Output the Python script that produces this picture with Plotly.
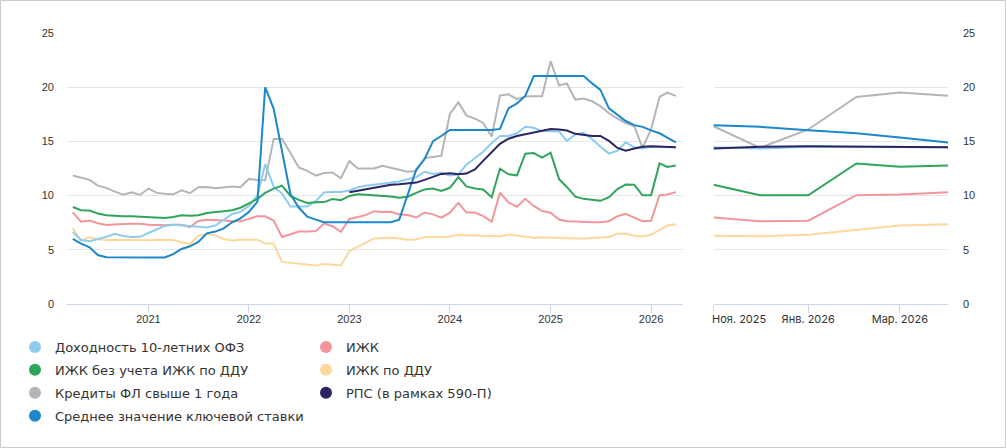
import pandas as pd
import plotly.graph_objects as go

# Monthly dates: Apr 2020 .. Apr 2026
dates = pd.date_range("2020-04-01", periods=73, freq="MS")

ofz10 = [6.65, 5.9, 5.78, 5.97, 6.2, 6.47, 6.28, 6.19, 6.2, 6.55, 6.9, 7.2,
         7.32, 7.28, 7.2, 7.12, 7.05, 7.24, 7.78, 8.3, 8.5,
         9.05, 10.0, 12.9, 10.8, 10.2, 9.0, 9.0, 9.0, 9.5, 10.28, 10.34, 10.34,
         10.47, 10.78, 10.9, 11.0, 11.1, 11.2, 11.3, 11.5, 11.7, 12.2, 12.0, 12.1,
         11.85, 11.95, 12.85, 13.45, 14.05, 14.85, 15.5, 15.5, 15.75, 16.35, 16.25, 15.95,
         15.92, 15.92, 15.03, 15.65, 15.8, 15.2, 14.5, 13.87, 14.15, 14.92, 14.45, 14.35,
         14.5, 14.48, 14.42, 14.45]

izhk_ex_ddu = [8.95, 8.65, 8.62, 8.34, 8.18, 8.12, 8.09, 8.09, 8.06, 8.03, 8.0, 7.94,
               8.03, 8.18, 8.15, 8.18, 8.4, 8.46, 8.55, 8.65, 8.88,
               9.28, 9.7, 10.25, 10.65, 10.92, 9.97, 9.6, 9.32, 9.38, 9.4, 9.69, 9.57,
               9.97, 10.12, 10.08, 10.03, 9.95, 9.92, 9.8, 9.9, 10.25, 10.57, 10.65, 10.42,
               10.72, 11.7, 10.85, 10.66, 10.57, 9.85, 12.48, 11.96, 11.87, 13.86, 13.92, 13.5,
               13.96, 11.52, 10.8, 9.9, 9.7, 9.58, 9.52, 9.85, 10.6, 11.02, 11.0, 10.03,
               10.03, 12.97, 12.65, 12.78]

consumer = [11.85, 11.66, 11.45, 10.92, 10.71, 10.37, 10.09, 10.31, 10.06, 10.65, 10.25, 10.18,
            10.12, 10.49, 10.22, 10.77, 10.8, 10.68, 10.77, 10.83, 10.77,
            11.54, 11.45, 11.42, 15.23, 15.23, 13.94, 12.6, 12.28, 11.85, 12.08, 12.14, 11.6,
            13.18, 12.5, 12.5, 12.5, 12.75, 12.59, 12.38, 12.19, 12.28, 13.46, 13.58, 13.67,
            17.53, 18.6, 17.4, 17.1, 16.7, 15.45, 19.23, 19.35, 18.9, 19.15, 19.17, 19.17,
            22.4, 20.15, 20.35, 18.86, 18.95, 18.7, 18.25, 17.6, 17.1, 16.7, 16.4, 14.4,
            16.1, 19.1, 19.5, 19.2]

key_rate = [6.0, 5.57, 5.23, 4.52, 4.31, 4.3, 4.3, 4.3, 4.3, 4.3, 4.3, 4.3,
            4.6, 5.08, 5.32, 5.72, 6.52, 6.68, 6.98, 7.54, 7.9,
            8.49, 9.45, 20.0, 18.0, 14.1, 10.12, 8.9, 8.05, 7.78, 7.54, 7.55, 7.55,
            7.55, 7.55, 7.55, 7.55, 7.55, 7.55, 7.78, 10.2, 12.42, 13.35, 15.03, 15.5,
            16.05, 16.05, 16.05, 16.05, 16.05, 16.05, 16.15, 18.05, 18.5, 19.2, 21.03, 21.03,
            21.03, 21.03, 21.03, 21.03, 21.03, 20.35, 19.75, 18.05, 17.45, 16.88, 16.5, 16.34,
            16.02, 15.75, 15.35, 14.9]

izhk = [8.45, 7.6, 7.7, 7.45, 7.28, 7.36, 7.37, 7.4, 7.4, 7.32, 7.26, 7.26,
        7.32, 7.3, 7.1, 7.66, 7.78, 7.76, 7.7, 7.63, 7.63,
        7.85, 8.1, 8.09, 7.7, 6.18, 6.4, 6.68, 6.68, 6.73, 7.42, 7.17, 6.66,
        7.85, 8.03, 8.2, 8.56, 8.48, 8.5, 8.27, 8.2, 7.98, 8.43, 8.27, 7.97,
        8.43, 9.34, 8.43, 8.43, 8.1, 7.6, 10.27, 9.37, 8.97, 9.7, 9.05, 8.57,
        8.42, 7.8, 7.64, 7.6, 7.55, 7.55, 7.55, 7.64, 8.1, 8.32, 7.97, 7.64,
        7.68, 10.04, 10.1, 10.32]

izhk_ddu = [7.0, 5.85, 6.15, 5.97, 5.9, 5.93, 5.96, 5.93, 5.9, 5.87, 5.93, 5.93,
            5.9, 5.7, 5.53, 6.3, 6.45, 6.33, 6.0, 5.85, 5.93,
            5.93, 5.93, 5.57, 5.57, 3.88, 3.8, 3.75, 3.67, 3.55, 3.7, 3.6, 3.55,
            4.88, 5.28, 5.65, 6.05, 6.1, 6.12, 6.04, 5.92, 5.95, 6.18, 6.18, 6.18,
            6.2, 6.4, 6.33, 6.35, 6.27, 6.3, 6.22, 6.42, 6.3, 6.22, 6.12, 6.15,
            6.12, 6.05, 6.05, 6.05, 6.05, 6.07, 6.08, 6.17, 6.5, 6.48, 6.3, 6.24,
            6.38, 6.86, 7.25, 7.35]

rps = [None] * 33 + [
    10.3, 10.45, 10.55, 10.7, 10.9, 11.0, 11.05, 11.1, 11.2, 11.45, 11.75, 12.0,
    12.07, 11.97, 12.03, 12.42, 13.2, 13.96, 14.78, 15.25, 15.5, 15.65, 15.8, 16.0,
    16.15, 16.1, 16.0, 15.7, 15.58, 15.5, 15.5, 15.05, 14.4, 14.15, 14.34, 14.5,
    14.55, 14.5, 14.46, 14.46]

names = ["Доходность 10-летних ОФЗ", "ИЖК без учета ИЖК по ДДУ",
         "Кредиты ФЛ свыше 1 года", "Среднее значение ключевой ставки",
         "ИЖК", "ИЖК по ДДУ", "РПС (в рамках 590-П)"]
colors = ["#8ecbf0", "#2fa55b", "#b3b5ba", "#1a88c9", "#f3969b", "#fdd89b", "#2a2563"]
series = [ofz10, izhk_ex_ddu, consumer, key_rate, izhk, izhk_ddu, rps]
legend_of = ["legend", "legend", "legend", "legend", "legend2", "legend2", "legend2"]

year_ticks = ["2021-01-01", "2022-01-01", "2023-01-01", "2024-01-01", "2025-01-01", "2026-01-01"]
zoom_tick_marks = ["2025-11-01", "2026-01-01", "2026-03-01"]
zoom_label_pos = ["2025-11-17 12:00", "2026-01-01", "2026-03-01"]
zoom_labels = ["Ноя. 2025", "Янв. 2026", "Мар. 2026"]
y_ticks = [0, 5, 10, 15, 20, 25]

# plot-area geometry (pixels) used to place items positioned outside it
ML, MR, MT, MB = 67, 58, 33, 144
W, H = 1006, 448
PW, PH = W - ML - MR, H - MT - MB


def px_x(px):
    return (px - ML) / PW


def px_y(py):
    return (H - MB - py) / PH


fig = go.Figure()
n_zoom = 6
order = [5, 4, 2, 0, 1, 3, 6]
for k in order:
    fig.add_trace(go.Scatter(x=dates, y=series[k], mode="lines", name=names[k],
                             line=dict(color=colors[k], width=2), showlegend=False,
                             xaxis="x", yaxis="y", connectgaps=False))
for k in order:
    fig.add_trace(go.Scatter(x=dates[-n_zoom:], y=series[k][-n_zoom:], mode="lines",
                             name=names[k], line=dict(color=colors[k], width=2),
                             showlegend=False, xaxis="x2", yaxis="y2"))
for k in range(len(names)):
    fig.add_trace(go.Scatter(x=[None], y=[None], mode="markers", name=names[k],
                             marker=dict(color=colors[k], size=12, symbol="circle"),
                             legend=legend_of[k], legendgroup=str(k),
                             xaxis="x", yaxis="y"))

tickfont = dict(family="Liberation Sans, Arial, sans-serif", size=11, color="#333333")
legfont = dict(family="DejaVu Sans, Verdana, sans-serif", size=13, color="#333333")

fig.update_layout(
    width=W, height=H,
    margin=dict(l=ML, r=MR, t=MT, b=MB, pad=0, autoexpand=False),
    paper_bgcolor="white", plot_bgcolor="white",
    xaxis=dict(domain=[0, px_x(682.7)], type="date", range=["2020-03-11", "2026-04-26"],
               tickmode="array", tickvals=year_ticks, tickformat="%Y",
               ticks="outside", ticklen=8, tickcolor="#ccd6eb", tickwidth=1,
               showline=True, linecolor="#ccd6eb", linewidth=1,
               showgrid=False, zeroline=False, tickfont=tickfont, anchor="y",
               tickangle=0, ticklabelstandoff=-3),
    yaxis=dict(domain=[0, 1], range=[0, 25], tickmode="array", tickvals=y_ticks,
               showgrid=True, gridcolor="#e6e6e6", gridwidth=1, zeroline=False,
               showline=False, ticks="", tickfont=tickfont, anchor="x",
               ticklabelstandoff=12),
    xaxis2=dict(domain=[px_x(713.5), 1], type="date", range=["2025-11-01", "2026-04-01"],
                tickmode="array", tickvals=zoom_label_pos, ticktext=zoom_labels,
                ticks="", showline=True, linecolor="#ccd6eb", linewidth=1,
                showgrid=False, zeroline=False, anchor="y2", tickangle=0,
                ticklabelstandoff=5,
                tickfont=dict(family="Inter, sans-serif", size=11, color="#333333"),
                minor=dict(tickmode="array", tickvals=zoom_tick_marks, ticks="outside",
                           ticklen=8, tickcolor="#ccd6eb", tickwidth=1, showgrid=False)),
    yaxis2=dict(domain=[0, 1], range=[0, 25], tickmode="array", tickvals=y_ticks,
                showgrid=True, gridcolor="#e6e6e6", gridwidth=1, zeroline=False,
                showline=False, ticks="", side="right", anchor="x2",
                tickfont=tickfont, ticklabelstandoff=14),
    legend=dict(xref="paper", yref="paper", x=px_x(15), y=px_y(332),
                xanchor="left", yanchor="top", orientation="v",
                font=legfont, tracegroupgap=3, itemsizing="constant",
                bgcolor="rgba(0,0,0,0)"),
    legend2=dict(xref="paper", yref="paper", x=px_x(306), y=px_y(332),
                 xanchor="left", yanchor="top", orientation="v",
                 font=legfont, tracegroupgap=3, itemsizing="constant",
                 bgcolor="rgba(0,0,0,0)"),
    shapes=[dict(type="rect", xref="paper", yref="paper",
                 x0=px_x(0.5), x1=px_x(1005.5), y0=px_y(447.5), y1=px_y(0.5),
                 line=dict(color="#cccccc", width=1), layer="below")],
    showlegend=True,
)

fig.write_html("out.html")
